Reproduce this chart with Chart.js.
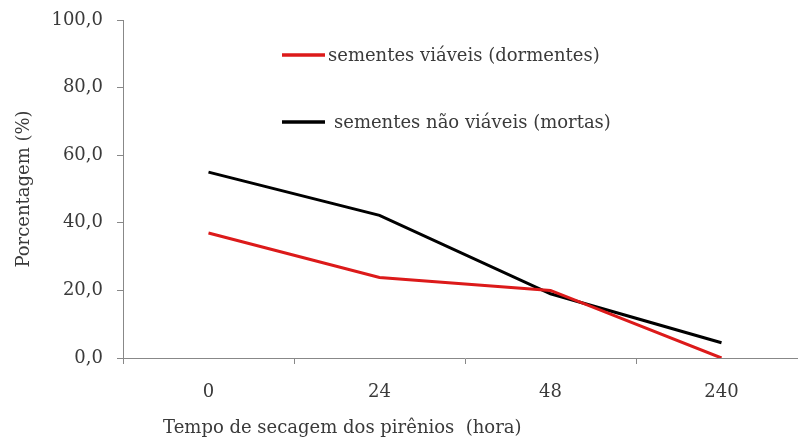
<!DOCTYPE html>
<html lang="pt">
<head>
    <meta charset="UTF-8">
    <title>Sementes viáveis e não viáveis</title>
    <script src="https://cdn.jsdelivr.net/npm/chart.js"></script>
    <style>
        body { margin: 0; background: #fff; overflow: hidden; }
        .chart-box { position: relative; width: 808px; height: 444px; }
    </style>
</head>
<body>
    <div class="chart-box">
        <canvas id="seedChart"></canvas>
    </div>

    <script>
        // dados
        const horas = ['0', '24', '48', '240'];
        const viaveis = [37.0, 23.8, 20.0, 0.0];
        const naoViaveis = [55.0, 42.2, 19.0, 4.5];
        const yTicks = [0, 20, 40, 60, 80, 100];

        const serif = "'DejaVu Serif', serif";
        const txt = '#3a3a3a';

        // legenda desenhada dentro da área do gráfico
        const innerLegend = {
            id: 'innerLegend',
            afterDatasetsDraw(chart) {
                const { ctx, chartArea } = chart;
                const rows = [
                    { y: 35, textX: 205 },
                    { y: 102, textX: 211 }
                ];
                ctx.save();
                ctx.font = "18px " + serif;
                ctx.textBaseline = 'middle';
                chart.data.datasets.forEach((ds, i) => {
                    const r = rows[i];
                    const x0 = chartArea.left + 159;
                    const y = chartArea.top + r.y;
                    ctx.strokeStyle = ds.borderColor;
                    ctx.lineWidth = 3.5;
                    ctx.beginPath();
                    ctx.moveTo(x0, y);
                    ctx.lineTo(x0 + 43, y);
                    ctx.stroke();
                    ctx.fillStyle = txt;
                    ctx.fillText(ds.label, chartArea.left + r.textX, y + 1);
                });
                ctx.restore();
            }
        };

        const ctx = document.getElementById('seedChart').getContext('2d');
        new Chart(ctx, {
            type: 'line',
            data: {
                labels: horas,
                datasets: [
                    {
                        label: 'sementes viáveis (dormentes)',
                        data: viaveis,
                        borderColor: '#dc1a1a',
                        borderWidth: 3,
                        pointRadius: 0,
                        tension: 0
                    },
                    {
                        label: 'sementes não viáveis (mortas)',
                        data: naoViaveis,
                        borderColor: '#000000',
                        borderWidth: 3,
                        pointRadius: 0,
                        tension: 0
                    }
                ]
            },
            options: {
                responsive: true,
                maintainAspectRatio: false,
                animation: false,
                layout: { padding: { top: 20, right: 1, left: 0, bottom: 0 } },
                plugins: {
                    legend: { display: false },
                    tooltip: { enabled: false }
                },
                scales: {
                    x: {
                        offset: true,
                        afterFit: s => { s.height = 86; s.paddingLeft = 0; s.paddingRight = 0; },
                        grid: {
                            offset: true,
                            drawOnChartArea: false,
                            color: '#888',
                            tickLength: 6
                        },
                        border: { color: '#888', width: 1 },
                        ticks: {
                            color: txt,
                            padding: 18,
                            font: { family: serif, size: 18 }
                        },
                        title: {
                            display: true,
                            align: 'start',
                            text: '       Tempo de secagem dos pirênios  (hora)',
                            color: txt,
                            font: { family: serif, size: 18 },
                            padding: { top: 0, bottom: 5 }
                        }
                    },
                    y: {
                        min: 0,
                        max: 100,
                        afterFit: s => { s.width = 123; s.paddingTop = 0; s.paddingBottom = 0; },
                        afterBuildTicks: s => { s.ticks = yTicks.map(v => ({ value: v })); },
                        grid: {
                            drawOnChartArea: false,
                            color: '#888',
                            tickLength: 6
                        },
                        border: { color: '#888', width: 1 },
                        ticks: {
                            color: txt,
                            padding: 14,
                            font: { family: serif, size: 18 },
                            callback: v => v.toFixed(1).replace('.', ',')
                        },
                        title: {
                            display: true,
                            text: 'Porcentagem (%)',
                            color: txt,
                            font: { family: serif, size: 18 },
                            padding: { top: 14, bottom: 0 }
                        }
                    }
                }
            },
            plugins: [innerLegend]
        });
    </script>
</body>
</html>
